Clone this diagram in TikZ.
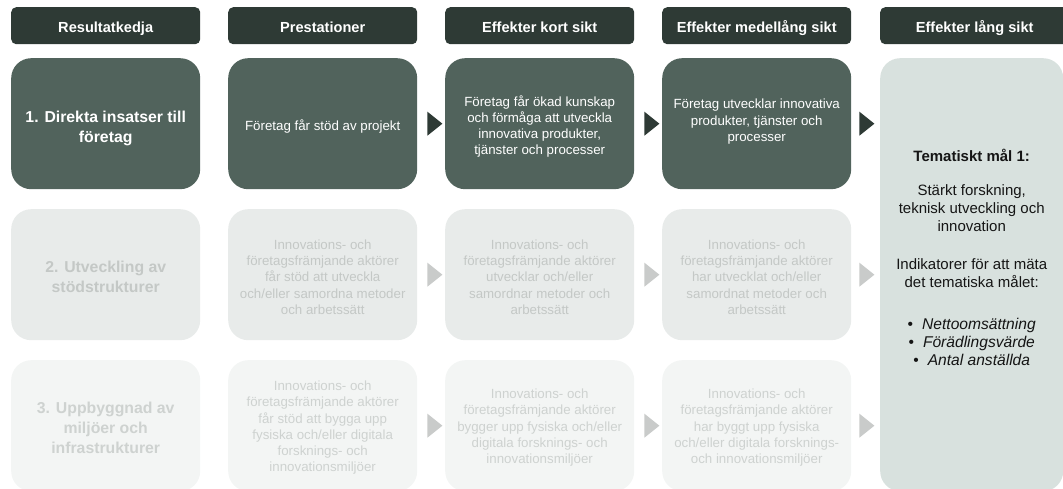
\documentclass[tikz,border=0pt]{standalone}
\usepackage{fontspec}
\setmainfont{Liberation Sans}
\definecolor{hdrc}{HTML}{2E3A35}
\definecolor{rowAc}{HTML}{51635C}
\definecolor{rowBc}{HTML}{E8EBEA}
\definecolor{rowBt}{HTML}{C4C8C6}
\definecolor{rowCc}{HTML}{F3F5F4}
\definecolor{rowCt}{HTML}{CED2D0}
\definecolor{arrD}{HTML}{2E3A35}
\definecolor{arrL}{HTML}{C9CBCA}
\definecolor{goalc}{HTML}{D8E1DE}
\definecolor{goalt}{HTML}{151515}
\tikzset{
  hdr/.style={fill=hdrc, rounded corners=5pt, text=white,
    font=\fontsize{14.6}{18}\selectfont\bfseries, text height=14pt, text depth=0pt,
    minimum width=189pt, minimum height=37pt, anchor=north west, inner sep=0pt},
  boxbase/.style={rounded corners=20pt, minimum width=189pt, minimum height=131pt,
    anchor=north west, inner sep=0pt},
  boxA/.style={boxbase, fill=rowAc},
  boxB/.style={boxbase, fill=rowBc},
  boxC/.style={boxbase, fill=rowCc},
  txtbase/.style={align=center, inner sep=0pt, font=\fontsize{13.3}{16.2}\selectfont},
  lblbase/.style={align=center, inner sep=0pt, font=\fontsize{15.8}{20}\selectfont\bfseries},
  txtA/.style={txtbase, text=white},
  txtB/.style={txtbase, text=rowBt},
  txtC/.style={txtbase, text=rowCt},
  lblA/.style={lblbase, text=white},
  lblB/.style={lblbase, text=rowBt},
  lblC/.style={lblbase, text=rowCt},
  goalbox/.style={fill=goalc, rounded corners=20pt, minimum width=183pt, minimum height=433pt,
    anchor=north west, inner sep=0pt},
  goaltext/.style={text=goalt, align=center, inner sep=0pt, font=\fontsize{15}{18}\selectfont},
  tri/.style={fill=#1},
}
\begin{document}
\begin{tikzpicture}[x=1pt,y=-1pt]
\useasboundingbox (0,0) rectangle (1063,489);
\clip (0,0) rectangle (1063,489);
% headers
\node[hdr] (h1) at (11,7) {Resultatkedja};
\node[hdr] (h2) at (228,7) {Prestationer};
\node[hdr] (h3) at (445,7) {Effekter kort sikt};
\node[hdr] (h4) at (662,7) {Effekter medellång sikt};
\node[hdr] (h5) at (880,7) {Effekter lång sikt};
% boxes
\node[boxA] (r1c1) at (11,58) {};
\node[boxA] (r1c2) at (228,58) {};
\node[boxA] (r1c3) at (445,58) {};
\node[boxA] (r1c4) at (662,58) {};
\node[boxB] (r2c1) at (11,209) {};
\node[boxB] (r2c2) at (228,209) {};
\node[boxB] (r2c3) at (445,209) {};
\node[boxB] (r2c4) at (662,209) {};
\node[boxC] (r3c1) at (11,360) {};
\node[boxC] (r3c2) at (228,360) {};
\node[boxC] (r3c3) at (445,360) {};
\node[boxC] (r3c4) at (662,360) {};
% row 1 texts
\node[lblA] (t11) at ([yshift=-5pt]r1c1.center) {1. Direkta insatser till\\företag};
\node[txtA] (t12) at ([yshift=-2.5pt]r1c2.center) {Företag får stöd av projekt};
\node[txtA] (t13) at ([yshift=-3pt]r1c3.center) {Företag får ökad kunskap\\och förmåga att utveckla\\innovativa produkter,\\tjänster och processer};
\node[txtA] (t14) at ([yshift=2pt]r1c4.center) {Företag utvecklar innovativa\\produkter, tjänster och\\processer};
% row 2 texts
\node[lblB] (t21) at ([yshift=-2.5pt]r2c1.center) {2. Utveckling av\\stödstrukturer};
\node[txtB] (t22) at ([yshift=-2.5pt]r2c2.center) {Innovations- och\\företagsfrämjande aktörer\\får stöd att utveckla\\och/eller samordna metoder\\och arbetssätt};
\node[txtB] (t23) at ([yshift=-2.5pt]r2c3.center) {Innovations- och\\företagsfrämjande aktörer\\utvecklar och/eller\\samordnar metoder och\\arbetssätt};
\node[txtB] (t24) at ([yshift=-2.5pt]r2c4.center) {Innovations- och\\företagsfrämjande aktörer\\har utvecklat och/eller\\samordnat metoder och\\arbetssätt};
% row 3 texts
\node[lblC] (t31) at ([yshift=-2pt]r3c1.center) {3. Uppbyggnad av\\miljöer och\\infrastrukturer};
\node[txtC] (t32) at ([yshift=-2pt]r3c2.center) {Innovations- och\\företagsfrämjande aktörer\\får stöd att bygga upp\\fysiska och/eller digitala\\forsknings- och\\innovationsmiljöer};
\node[txtC] (t33) at ([yshift=-2pt]r3c3.center) {Innovations- och\\företagsfrämjande aktörer\\bygger upp fysiska och/eller\\digitala forsknings- och\\innovationsmiljöer};
\node[txtC] (t34) at ([yshift=-2pt]r3c4.center) {Innovations- och\\företagsfrämjande aktörer\\har byggt upp fysiska\\och/eller digitala forsknings-\\och innovationsmiljöer};
% goal box
\node[goalbox] (goal) at (880,58) {};
\node[goaltext, font=\fontsize{15}{18}\selectfont\bfseries] (g1) at ([yshift=-97pt]goal.north) {Tematiskt mål 1:};
\node[goaltext] (g2) at ([yshift=-150pt]goal.north) {Stärkt forskning,\\teknisk utveckling och\\innovation};
\node[goaltext] (g3) at ([yshift=-215pt]goal.north) {Indikatorer för att mäta\\det tematiska målet:};
\node[goaltext, font=\fontsize{15.6}{18}\selectfont] (g4) at ([yshift=-283.5pt]goal.north) {•\hspace{9pt}\textit{Nettoomsättning}\\•\hspace{9pt}\textit{Förädlingsvärde}\\•\hspace{9pt}\textit{Antal anställda}};
% arrows
\foreach \r/\c in {1/arrD,2/arrL,3/arrL}{
  \fill[tri=\c] ([xshift=10pt,yshift=12pt]r\r c2.east) -- ++(15,12) -- ++(-15,12) -- cycle;
  \fill[tri=\c] ([xshift=10pt,yshift=12pt]r\r c3.east) -- ++(15,12) -- ++(-15,12) -- cycle;
  \fill[tri=\c] ([xshift=8pt,yshift=12pt]r\r c4.east) -- ++(15,12) -- ++(-15,12) -- cycle;
}
\end{tikzpicture}
\end{document}
